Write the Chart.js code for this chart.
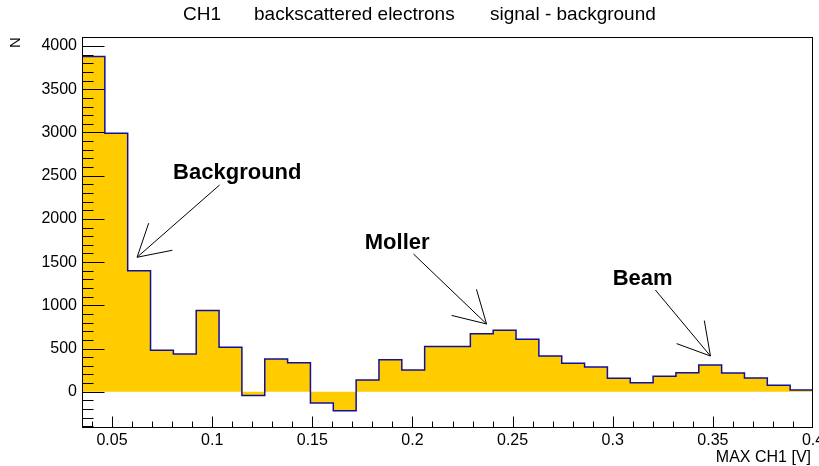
<!DOCTYPE html>
<html>
<head>
<meta charset="utf-8">
<title>CH1 backscattered electrons - signal - background</title>
<script src="https://cdn.jsdelivr.net/npm/chart.js@4.4.1/dist/chart.umd.min.js"></script>
<style>
  html, body { margin: 0; padding: 0; background: #fff; }
  #wrap { width: 819px; height: 466px; }
</style>
</head>
<body>
<div id="wrap"><canvas id="hist" width="819" height="466"></canvas></div>
<script>
// ---- data ---------------------------------------------------------------
// bin edges of the MAX CH1 histogram (V), 32 bins between 0.035 and 0.4
const binEdges = [
  0.0350, 0.04641, 0.05781, 0.06922, 0.08063, 0.09203, 0.10344, 0.11484,
  0.12625, 0.13766, 0.14906, 0.16047, 0.17188, 0.18328, 0.19469, 0.20609,
  0.2175, 0.22891, 0.24031, 0.25172, 0.26313, 0.27453, 0.28594, 0.29734,
  0.30875, 0.32016, 0.33156, 0.34297, 0.35438, 0.36578, 0.37719, 0.38859,
  0.4,
];
// signal - background, one value per bin
const counts = [
  3880, 2990, 1400, 480, 435, 940, 515, -45,
  378, 336, -130, -220, 135, 370, 250, 522,
  522, 672, 710, 606, 413, 329, 286, 155,
  104, 178, 220, 309, 216, 159, 74, 20,
];
const xTicks = [0.05, 0.1, 0.15, 0.2, 0.25, 0.3, 0.35, 0.4];
const xTickLabels = ['0.05', '0.1', '0.15', '0.2', '0.25', '0.3', '0.35', '0.4'];
const yTicks = [0, 500, 1000, 1500, 2000, 2500, 3000, 3500, 4000];
const titleParts = ['CH1', 'backscattered electrons', 'signal - background'];
const xTitle = 'MAX CH1 [V]';
const yTitle = 'N';

// arrows + labels, in data coordinates
const notes = [
  { text: 'Background', at: [0.0805, 2456], from: [0.1037, 2392], to: [0.0625, 1556] },
  { text: 'Moller',     at: [0.1762, 1648], from: [0.2005, 1594], to: [0.2370, 784] },
  { text: 'Beam',       at: [0.3000, 1231], from: [0.3213, 1177], to: [0.3488, 413] },
];

const FONT = '"Liberation Sans", Arial, Helvetica, sans-serif';

// histogram as a step line: left edge of each bin + closing point at the upper edge
const points = counts.map((v, i) => ({ x: binEdges[i], y: v }));
points.push({ x: binEdges[binEdges.length - 1], y: counts[counts.length - 1] });

// ROOT-like frame: inward ticks, frame box, titles and arrows
const rootFrame = {
  id: 'rootFrame',
  afterDatasetsDraw(chart) {
    const { ctx, chartArea: a, scales: { x, y } } = chart;
    const L = Math.round(a.left) + 0.5, R = Math.round(a.right) - 0.5;
    const T = Math.round(a.top) + 0.5, B = Math.round(a.bottom) - 0.5;
    ctx.save();
    ctx.strokeStyle = '#000';
    ctx.lineWidth = 1;

    // y ticks (major 22px, minor 11px) pointing into the plot
    ctx.beginPath();
    for (let v = -400; v <= 4100; v += 100) {
      const py = Math.round(y.getPixelForValue(v)) + 0.5;
      if (py < T || py > B) continue;
      const len = v % 500 === 0 ? 22 : 11;
      ctx.moveTo(L, py); ctx.lineTo(L + len, py);
    }
    // x ticks (major 11px, minor 6px)
    for (let k = 4; k <= 40; k++) {
      const px = Math.round(x.getPixelForValue(k / 100)) + 0.5;
      if (px < L || px > R) continue;
      const len = k % 5 === 0 ? 11 : 6;
      ctx.moveTo(px, B); ctx.lineTo(px, B - len);
    }
    ctx.stroke();

    // frame
    ctx.strokeRect(L, T, R - L, B - T);

    // arrows
    ctx.lineWidth = 1;
    notes.forEach(n => {
      const x0 = x.getPixelForValue(n.from[0]), y0 = y.getPixelForValue(n.from[1]);
      const x1 = x.getPixelForValue(n.to[0]), y1 = y.getPixelForValue(n.to[1]);
      const ang = Math.atan2(y0 - y1, x0 - x1);
      const head = 36, spread = Math.PI / 6;
      ctx.beginPath();
      ctx.moveTo(x0, y0); ctx.lineTo(x1, y1);
      ctx.moveTo(x1 + head * Math.cos(ang - spread), y1 + head * Math.sin(ang - spread));
      ctx.lineTo(x1, y1);
      ctx.lineTo(x1 + head * Math.cos(ang + spread), y1 + head * Math.sin(ang + spread));
      ctx.stroke();

      ctx.fillStyle = '#000';
      ctx.font = 'bold 22px ' + FONT;
      ctx.textAlign = 'left';
      ctx.textBaseline = 'alphabetic';
      ctx.fillText(n.text, x.getPixelForValue(n.at[0]), y.getPixelForValue(n.at[1]));
    });

    // titles
    ctx.fillStyle = '#000';
    ctx.font = '19px ' + FONT;
    ctx.textAlign = 'left';
    const titleX = [183, 254, 490];
    titleParts.forEach((t, i) => ctx.fillText(t, titleX[i], 20));

    ctx.font = '16px ' + FONT;
    ctx.textAlign = 'right';
    ctx.fillText(xTitle, 811, 462);

    ctx.save();
    ctx.translate(20, 42.5);
    ctx.rotate(-Math.PI / 2);
    ctx.textAlign = 'center';
    ctx.font = '15px ' + FONT;
    ctx.fillText(yTitle, 0, 0);
    ctx.restore();

    ctx.restore();
  },
};

new Chart(document.getElementById('hist'), {
  type: 'line',
  data: {
    datasets: [{
      data: points,
      stepped: true,
      fill: 'origin',
      backgroundColor: '#ffcc00',
      borderColor: '#10109a',
      borderWidth: 1.5,
      pointRadius: 0,
      tension: 0,
    }],
  },
  options: {
    responsive: false,
    animation: false,
    devicePixelRatio: 1,
    layout: { padding: { top: 37, right: 6, left: 0, bottom: 0 } },
    plugins: { legend: { display: false }, tooltip: { enabled: false }, title: { display: false } },
    scales: {
      x: {
        type: 'linear', min: 0.035, max: 0.4,
        grid: { display: false, drawTicks: false },
        border: { display: false },
        ticks: {
          autoSkip: false, maxRotation: 0, padding: 3, color: '#000',
          font: { family: FONT, size: 16 },
          callback: v => { const i = xTicks.indexOf(v); return i >= 0 ? xTickLabels[i] : ''; },
        },
        afterBuildTicks: s => { s.ticks = xTicks.map(v => ({ value: v })); },
        afterFit: s => { s.height = 38; s.paddingLeft = 0; s.paddingRight = 0; },
      },
      y: {
        type: 'linear', min: -420, max: 4105,
        grid: { display: false, drawTicks: false },
        border: { display: false },
        ticks: {
          autoSkip: false, padding: 5, color: '#000',
          font: { family: FONT, size: 16 },
          callback: v => String(v),
        },
        afterBuildTicks: s => { s.ticks = yTicks.map(v => ({ value: v })); },
        afterFit: s => { s.width = 82; s.paddingTop = 0; s.paddingBottom = 0; },
      },
    },
  },
  plugins: [rootFrame],
});
</script>
</body>
</html>
